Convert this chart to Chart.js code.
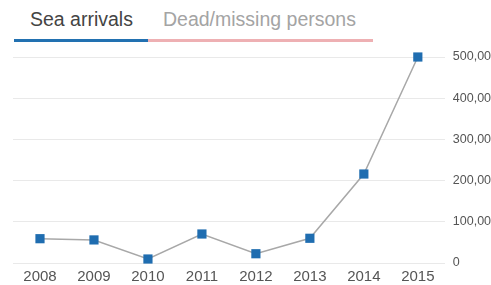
<!DOCTYPE html>
<html>
<head>
<meta charset="utf-8">
<script src="https://cdn.jsdelivr.net/npm/chart.js@4"></script>
<style>
  html, body { margin: 0; padding: 0; background: #fff; overflow: hidden; }
  body { width: 491px; height: 285px; position: relative; font-family: "Liberation Sans", Arial, sans-serif; }
  #chart { position: absolute; left: 0; top: 0; }
  .tab { position: absolute; top: 0; height: 42px; font-size: 19.5px; line-height: 1; box-sizing: border-box; padding-top: 10px; }
  #tabSea { left: 14px; width: 134px; padding-left: 16px; color: #444; border-bottom: 3px solid #2271b1; }
  #tabDead { left: 148px; width: 225px; padding-left: 15px; color: #a4a4a4; border-bottom: 3px solid #eeb0b3; }
</style>
</head>
<body>
<div class="tab" id="tabSea">Sea arrivals</div>
<div class="tab" id="tabDead">Dead/missing persons</div>
<canvas id="chart" width="520" height="291"></canvas>
<script>
const years = ["2008", "2009", "2010", "2011", "2012", "2013", "2014", "2015"];
const seaArrivals = [59000, 56000, 9700, 70400, 22500, 60000, 216000, 500000];
const yTicks = [0, 100000, 200000, 300000, 400000, 500000];

const ctx = document.getElementById("chart").getContext("2d");
new Chart(ctx, {
  type: "line",
  data: {
    labels: years,
    datasets: [
      {
        label: "Sea arrivals",
        data: seaArrivals,
        borderColor: "#a8a8a8",
        borderWidth: 1.5,
        backgroundColor: "#1f6db0",
        pointStyle: "rect",
        pointRadius: 6.5,
        pointBorderWidth: 0,
        pointBackgroundColor: "#1f6db0",
        tension: 0,
        fill: false,
        clip: false,
      },
    ],
  },
  options: {
    responsive: false,
    animation: false,
    layout: { padding: { left: 13, top: 57, right: 14, bottom: 0 } },
    plugins: { legend: { display: false }, tooltip: { enabled: false } },
    scales: {
      x: {
        offset: true,
        grid: { display: false, drawTicks: false },
        border: { display: false },
        ticks: {
          color: "#555",
          padding: 5,
          font: { family: "Liberation Sans", size: 15 },
          maxRotation: 0,
        },
      },
      y: {
        position: "right",
        min: 0,
        max: 500000,
        afterBuildTicks: (axis) => { axis.ticks = yTicks.map((v) => ({ value: v })); },
        grid: { color: "#e9e9e9", drawTicks: false },
        border: { display: false },
        ticks: {
          color: "#555",
          padding: 8,
          font: { family: "Liberation Sans", size: 12.5 },
          callback: (v) => v.toLocaleString("en-US"),
        },
      },
    },
  },
});
</script>
</body>
</html>
